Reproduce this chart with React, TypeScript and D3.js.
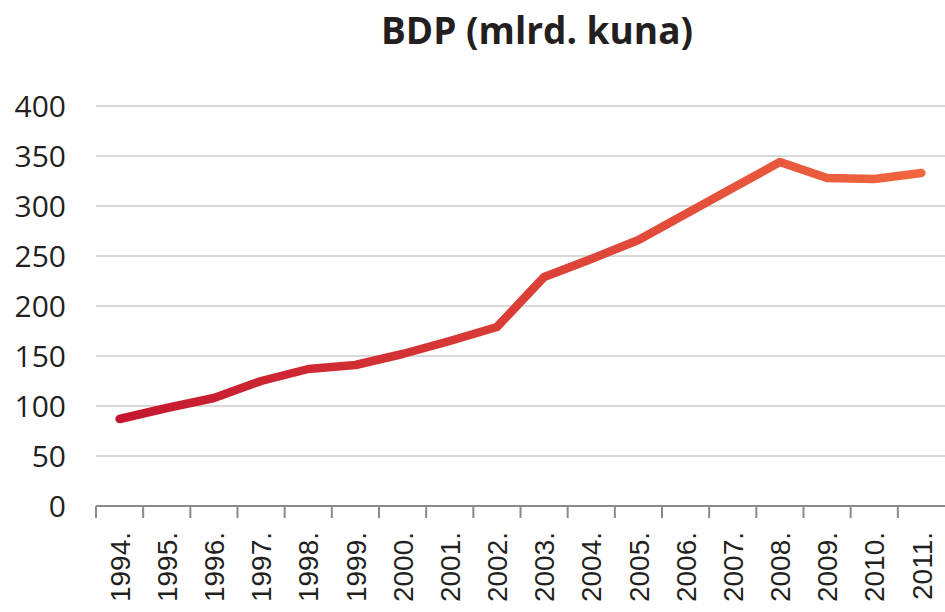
import React, { useEffect, useRef } from 'react';
import * as d3 from 'd3';

const years = ['1994.', '1995.', '1996.', '1997.', '1998.', '1999.', '2000.', '2001.', '2002.',
  '2003.', '2004.', '2005.', '2006.', '2007.', '2008.', '2009.', '2010.', '2011.'];
const gdp = [87, 98, 108, 125, 137, 141, 152, 165, 179, 229, 247, 266, 292, 318, 344, 328, 327, 333];
const yTicks = [0, 50, 100, 150, 200, 250, 300, 350, 400];

const W = 945;
const H = 612;

export default function App(): React.ReactElement {
  const svgRef = useRef<SVGSVGElement>(null);

  useEffect(() => {
    if (!svgRef.current) return;
    const svg = d3.select(svgRef.current);
    svg.selectAll('*').remove();

    const margin = { left: 96, right: 0, top: 106, bottom: 106 };
    const x = d3.scaleBand<string>().domain(years).range([margin.left, W - margin.right]);
    const y = d3.scaleLinear().domain([0, 400]).range([H - margin.bottom, margin.top]);

    // title
    svg.append('text')
      .attr('x', 537)
      .attr('y', 44)
      .attr('text-anchor', 'middle')
      .attr('font-family', '"Open Sans", "Noto Sans", sans-serif')
      .attr('font-weight', 700)
      .attr('font-size', '37px')
      .attr('fill', '#231f20')
      .text('BDP (mlrd. kuna)');

    // gridlines
    svg.append('g')
      .selectAll('line')
      .data(yTicks.filter((t) => t > 0))
      .join('line')
      .attr('x1', margin.left)
      .attr('x2', W)
      .attr('y1', (d) => y(d))
      .attr('y2', (d) => y(d))
      .attr('stroke', '#cdcdcd')
      .attr('stroke-width', 1.5);

    // y labels
    svg.append('g')
      .selectAll('text')
      .data(yTicks)
      .join('text')
      .attr('x', 66)
      .attr('y', (d) => y(d))
      .attr('dy', '0.36em')
      .attr('text-anchor', 'end')
      .attr('font-family', '"Open Sans", "Noto Sans", sans-serif')
      .attr('font-size', '30px')
      .attr('fill', '#231f20')
      .text((d) => d);

    // x axis
    const axisY = y(0);
    svg.append('line')
      .attr('x1', margin.left)
      .attr('x2', W)
      .attr('y1', axisY)
      .attr('y2', axisY)
      .attr('stroke', '#8a8a8a')
      .attr('stroke-width', 2);

    svg.append('g')
      .selectAll('line')
      .data(years)
      .join('line')
      .attr('x1', (d) => x(d)!)
      .attr('x2', (d) => x(d)!)
      .attr('y1', axisY)
      .attr('y2', axisY + 12)
      .attr('stroke', '#8a8a8a')
      .attr('stroke-width', 2);

    svg.append('g')
      .selectAll('text')
      .data(years)
      .join('text')
      .attr('transform', (d) => `translate(${x(d)! + x.bandwidth() / 2},${axisY + 26}) rotate(-90)`)
      .attr('text-anchor', 'end')
      .attr('dy', '0.36em')
      .attr('font-family', '"Liberation Sans", Arial, sans-serif')
      .attr('font-size', '28px')
      .attr('fill', '#231f20')
      .text((d) => d);

    // line gradient
    const defs = svg.append('defs');
    const cx = (d: string) => x(d)! + x.bandwidth() / 2;
    const grad = defs.append('linearGradient')
      .attr('id', 'gdp-grad')
      .attr('gradientUnits', 'userSpaceOnUse')
      .attr('x1', cx(years[0]))
      .attr('x2', cx(years[years.length - 1]))
      .attr('y1', 0)
      .attr('y2', 0);
    grad.append('stop').attr('offset', '0%').attr('stop-color', '#c5162f');
    grad.append('stop').attr('offset', '100%').attr('stop-color', '#f0663f');

    const line = d3.line<number>()
      .x((_, i) => cx(years[i]))
      .y((d) => y(d));

    svg.append('path')
      .datum(gdp)
      .attr('d', line)
      .attr('fill', 'none')
      .attr('stroke', 'url(#gdp-grad)')
      .attr('stroke-width', 8.5)
      .attr('stroke-linejoin', 'round')
      .attr('stroke-linecap', 'round');
  }, []);

  return (
    <svg
      ref={svgRef}
      width={W}
      height={H}
      style={{ position: 'absolute', left: 0, top: 0, background: '#fff' }}
    />
  );
}
